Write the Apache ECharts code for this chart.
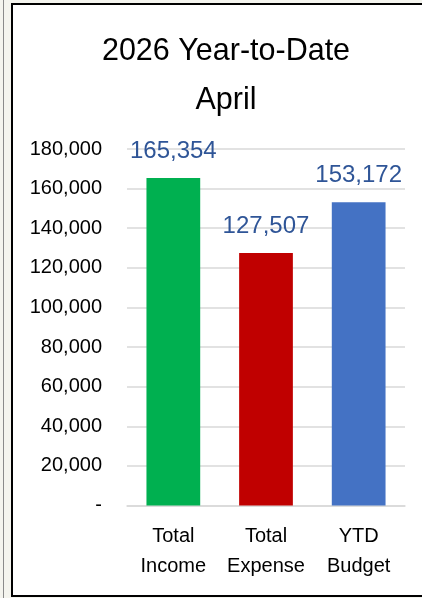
<!DOCTYPE html>
<html>
<head>
<meta charset="utf-8">
<style>
  html, body { margin: 0; padding: 0; background: #f4f4ee; }
  #chart { width: 422px; height: 598px; }
</style>
<script src="https://cdn.jsdelivr.net/npm/echarts@6/dist/echarts.min.js"></script>
</head>
<body>
<div id="chart"></div>
<script>
const titleLines = ['2026 Year-to-Date', 'April'];
const categories = ['Total\nIncome', 'Total\nExpense', 'YTD\nBudget'];
const values = [165354, 127507, 153172];
const barColors = ['#00B050', '#C00000', '#4472C4'];
const yTicks = [0, 20000, 40000, 60000, 80000, 100000, 120000, 140000, 160000, 180000];

const fmt = v => v === 0 ? '-' : v.toLocaleString('en-US');
const FONT = '"Liberation Sans", Arial, sans-serif';

const chart = echarts.init(document.getElementById('chart'), null, { renderer: 'canvas' });
chart.setOption({
  backgroundColor: '#f4f4ee',
  animation: false,
  graphic: [
    { type: 'line', shape: { x1: 3.5, y1: 0, x2: 3.5, y2: 598 }, style: { stroke: '#8a8a8a', lineWidth: 1 }, z: -10 },
    { type: 'rect', shape: { x: 12, y: 4, width: 420, height: 592 }, style: { fill: '#ffffff', stroke: '#000000', lineWidth: 2 }, z: -10 }
  ],
  title: {
    text: titleLines.join('\n'),
    left: 221, top: 22, textAlign: 'center',
    textStyle: { fontFamily: FONT, fontSize: 30.5, fontWeight: 'normal', color: '#000', lineHeight: 49 }
  },
  grid: { left: 127, right: 17, top: 149, bottom: 92.5, containLabel: false },
  xAxis: {
    type: 'category',
    data: categories,
    axisLine: { lineStyle: { color: '#d9d9d9', width: 1.5 } },
    axisTick: { show: false },
    axisLabel: { interval: 0, color: '#000', fontFamily: FONT, fontSize: 20, lineHeight: 30, margin: 16 }
  },
  yAxis: {
    type: 'value',
    min: 0, max: 180000, interval: 20000,
    axisLine: { show: false },
    axisTick: { show: false },
    splitLine: { lineStyle: { color: '#d9d9d9', width: 1.5 } },
    axisLabel: {
      color: '#000', fontFamily: FONT, fontSize: 20, margin: 25,
      formatter: v => yTicks.includes(v) ? fmt(v) : ''
    }
  },
  series: [{
    type: 'bar',
    data: values.map((v, i) => ({ value: v, itemStyle: { color: barColors[i] } })),
    barWidth: '58%',
    label: {
      show: true, position: 'top', distance: 15,
      color: '#2F5597', fontFamily: FONT, fontSize: 24,
      formatter: p => fmt(p.value)
    }
  }]
});
</script>
</body>
</html>
